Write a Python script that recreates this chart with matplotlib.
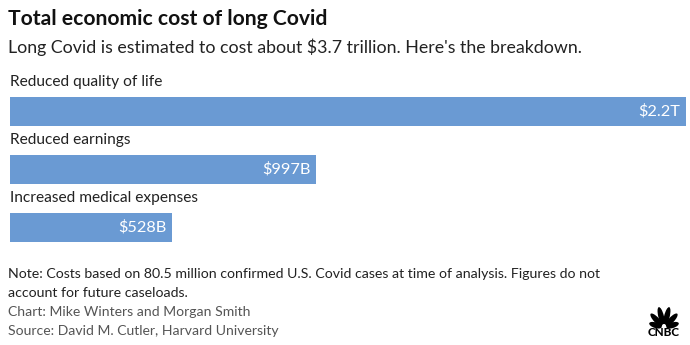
import math
import matplotlib
matplotlib.use("Agg")
import matplotlib.pyplot as plt
from matplotlib.patches import Ellipse

# Data
categories = ["Reduced quality of life", "Reduced earnings", "Increased medical expenses"]
values = [2200, 997, 528]  # billions of dollars
value_labels = ["$2.2T", "$997B", "$528B"]

W, H = 690, 345
BAR_COLOR = "#6A9AD3"
FONT = "Lato"

fig = plt.figure(figsize=(W / 100, H / 100), dpi=100, facecolor="white")

# axes placed in pixel coords: bars from x=10 to 686, y=97 to 242
ax = fig.add_axes([10 / W, 1 - 242 / H, 676 / W, 145 / H])
pos = list(range(len(categories)))
ax.barh(pos, values, height=0.5, color=BAR_COLOR)
ax.set_xlim(0, values[0])
ax.set_ylim(2.25, -0.25)
ax.axis("off")

for i, (cat, v, lab) in enumerate(zip(categories, values, value_labels)):
    ax.text(0, i - 0.51, cat, ha="left", va="center", fontsize=11.2,
            family=FONT, color="#222222", clip_on=False)
    ax.text(v - values[0] * 0.008, i, lab, ha="right", va="center",
            fontsize=11.8, family=FONT, color="white")

# title and subtitle
fig.text(8 / W, 1 - 19 / H, "Total economic cost of long Covid", ha="left",
         va="center", fontsize=15.2, fontweight="bold", family=FONT, color="#111111")
fig.text(8 / W, 1 - 47 / H,
         "Long Covid is estimated to cost about $3.7 trillion. Here's the breakdown.",
         ha="left", va="center", fontsize=12.8, family=FONT, color="#222222")

# notes
fig.text(8 / W, 1 - 274 / H,
         "Note: Costs based on 80.5 million confirmed U.S. Covid cases at time of analysis. Figures do not",
         ha="left", va="center", fontsize=10.2, family=FONT, color="#222222")
fig.text(8 / W, 1 - 293 / H, "account for future caseloads.",
         ha="left", va="center", fontsize=10.2, family=FONT, color="#222222")
fig.text(8 / W, 1 - 312 / H, "Chart: Mike Winters and Morgan Smith",
         ha="left", va="center", fontsize=10.1, family=FONT, color="#555555")
fig.text(8 / W, 1 - 331 / H, "Source: David M. Cutler, Harvard University",
         ha="left", va="center", fontsize=10.1, family=FONT, color="#555555")

# CNBC peacock logo (simplified), axes units = pixels, y measured up from 340
lax = fig.add_axes([640 / W, 1 - 340 / H, 48 / W, 40 / H])
lax.set_xlim(0, 48)
lax.set_ylim(0, 40)
lax.axis("off")
bx, by = 24, 12
for theta, L in [(-72, 13), (-43, 17), (-14, 19), (14, 19), (43, 17), (72, 13)]:
    a = math.radians(theta)
    r = L / 2 + 2.5
    lax.add_patch(Ellipse((bx + r * math.sin(a), by + r * math.cos(a)), 5.6, L,
                          angle=-theta, color="black", lw=0))
lax.add_patch(Ellipse((bx, by + 2), 4, 4, color="white", lw=0))
lax.text(bx, 7.5, "CNBC", ha="center", va="center", fontsize=8.5,
         fontweight="black", family=FONT, color="black")

fig.savefig("out.png", dpi=100, facecolor="white")
